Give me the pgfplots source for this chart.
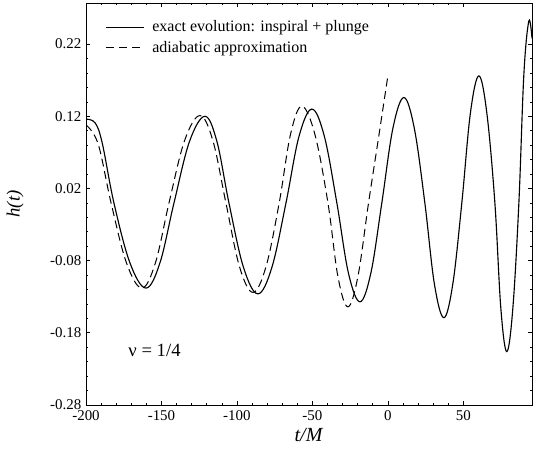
\documentclass[border=0pt]{standalone}
\usepackage{pgfplots}
\pgfplotsset{compat=1.18}
\usepackage{fontspec}
\setmainfont{Liberation Serif}

\begin{document}
\fontsize{10pt}{12pt}\selectfont
\begin{tikzpicture}
\begin{axis}[
    scale only axis,
    width=334.5pt, height=301.5pt,
    xmin=-200, xmax=95.5,
    ymin=-0.28, ymax=0.277,
    xtick={-200,-150,-100,-50,0,50},
    xticklabels={-200,-150,-100,-50,0,50},
    ytick={-0.28,-0.18,-0.08,0.02,0.12,0.22},
    yticklabels={-0.28,-0.18,-0.08,0.02,0.12,0.22},
    minor x tick num=4,
    minor y tick num=4,
    tick align=inside,
    major tick length=3pt,
    minor tick length=1.6pt,
    axis line style={line width=0.6pt},
    every tick/.style={black, line width=0.5pt},
    ticklabel style={font=\fontsize{11.2pt}{13pt}\selectfont},
    xticklabel style={yshift=-1pt},
    xlabel={\textit{t/M}},
    ylabel={\textit{h(t)}},
    xlabel style={font=\fontsize{15pt}{17pt}\selectfont,
        at={(axis description cs:0.5,-0.075)}, anchor=center},
    ylabel style={font=\fontsize{14pt}{16pt}\selectfont,
        at={(axis description cs:-0.159,0.5)}, anchor=center},
    legend cell align=left,
    legend style={draw=none, fill=none, at={(axis description cs:0.035,0.97)},
        anchor=north west, row sep=1.5pt,
        font=\fontsize{12pt}{14pt}\selectfont},
    legend image code/.code={\draw[#1] (0pt,0pt) -- (28pt,0pt); \path (32pt,0pt);},
]
\addplot[black, line width=0.85pt, smooth, tension=0.6] coordinates {
    (-200,0.116) (-194,0.111) (-189.25,0.083) (-181.5,0) (-170.9,-0.083)
    (-160.3,-0.118) (-151,-0.083) (-141.7,0) (-131.45,0.085) (-121.2,0.120)
    (-113.25,0.085) (-105.3,0) (-95.7,-0.089) (-86.1,-0.126) (-76.8,-0.089)
    (-67.5,0) (-58.9,0.092) (-50.3,0.130) (-42.05,0.092) (-33.8,0)
    (-26.15,-0.097) (-18.5,-0.137) (-11.25,-0.097) (-4,0) (3.3,0.103)
    (10.6,0.146) (17.55,0.103) (24.5,0) (30.8,-0.112) (37.1,-0.159)
    (43.05,-0.112) (49,0) (54.65,0.124) (60.3,0.176) (65.6,0.124)
    (70.9,0) (74.85,-0.146) (78.8,-0.206) (82.8,-0.146) (86.8,0)
    (90.1,0.178) (93.4,0.252) (95.5,0.228)
};
\addlegendentry{exact evolution: inspiral + plunge}
\addplot[black, line width=0.75pt, dash pattern=on 6pt off 3.5pt, smooth, tension=0.6] coordinates {
    (-200,0.108) (-192,0.082) (-183.4,0) (-173.2,-0.083) (-163,-0.118)
    (-154,-0.083) (-145,0) (-134.75,0.086) (-124.5,0.121) (-115.9,0.086)
    (-107.3,0) (-98.35,-0.088) (-89.4,-0.124) (-80.7,-0.088) (-72,0)
    (-64.5,0.095) (-57,0.134) (-48.35,0.095) (-39.7,0) (-33.1,-0.102)
    (-26.5,-0.144) (-19.85,-0.102) (-12.8,0) (-6.2,0.09) (0,0.176)
};
\addlegendentry{adiabatic approximation}
\node[anchor=west, font=\fontsize{14pt}{16pt}\selectfont] at (axis cs:-175,-0.204) {ν = 1/4};
\end{axis}
\pgfresetboundingbox
\path[use as bounding box] ([xshift=-64.5pt,yshift=-33pt]current axis.south west)
    rectangle ([xshift=0.75pt,yshift=2.25pt]current axis.north east);
\end{tikzpicture}
\end{document}
